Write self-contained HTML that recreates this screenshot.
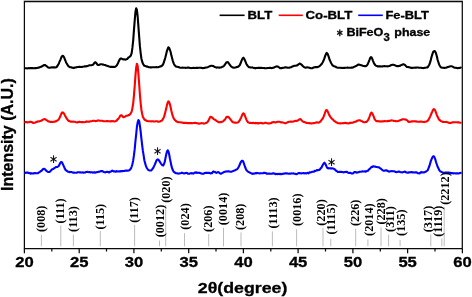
<!DOCTYPE html>
<html><head><meta charset="utf-8"><title>XRD</title>
<style>
html,body{margin:0;padding:0;background:#fff;}
svg{display:block;}
.ax{font-family:"Liberation Sans",sans-serif;font-weight:bold;fill:#000;stroke:#000;stroke-width:0.3px;}
.hk{font-family:"Liberation Serif",serif;font-weight:bold;font-size:12.2px;fill:#000;}
</style></head><body>
<svg width="472" height="297" viewBox="0 0 472 297">
<rect width="472" height="297" fill="#fff"/>
<line x1="41.4" y1="235.0" x2="41.4" y2="246.3" stroke="#b4b4b4" stroke-width="0.9"/>
<line x1="60.8" y1="225.3" x2="60.8" y2="246.3" stroke="#b4b4b4" stroke-width="0.9"/>
<line x1="73.4" y1="234.6" x2="73.4" y2="246.3" stroke="#b4b4b4" stroke-width="0.9"/>
<line x1="100.3" y1="231.0" x2="100.3" y2="246.3" stroke="#b4b4b4" stroke-width="0.9"/>
<line x1="134.6" y1="224.8" x2="134.6" y2="246.3" stroke="#b4b4b4" stroke-width="0.9"/>
<line x1="159.5" y1="240.5" x2="159.5" y2="246.3" stroke="#b4b4b4" stroke-width="0.9"/>
<line x1="165.7" y1="205.0" x2="165.7" y2="246.3" stroke="#b4b4b4" stroke-width="0.9"/>
<line x1="184.5" y1="233.2" x2="184.5" y2="246.3" stroke="#b4b4b4" stroke-width="0.9"/>
<line x1="208.7" y1="234.0" x2="208.7" y2="246.3" stroke="#b4b4b4" stroke-width="0.9"/>
<line x1="223.5" y1="227.8" x2="223.5" y2="246.3" stroke="#b4b4b4" stroke-width="0.9"/>
<line x1="241.0" y1="232.4" x2="241.0" y2="246.3" stroke="#b4b4b4" stroke-width="0.9"/>
<line x1="272.4" y1="231.3" x2="272.4" y2="246.3" stroke="#b4b4b4" stroke-width="0.9"/>
<line x1="296.6" y1="229.2" x2="296.6" y2="246.3" stroke="#b4b4b4" stroke-width="0.9"/>
<line x1="323.0" y1="227.8" x2="323.0" y2="246.3" stroke="#b4b4b4" stroke-width="0.9"/>
<line x1="330.8" y1="238.6" x2="330.8" y2="246.3" stroke="#b4b4b4" stroke-width="0.9"/>
<line x1="355.7" y1="228.6" x2="355.7" y2="246.3" stroke="#b4b4b4" stroke-width="0.9"/>
<line x1="367.9" y1="239.4" x2="367.9" y2="246.3" stroke="#b4b4b4" stroke-width="0.9"/>
<line x1="381.0" y1="227.3" x2="381.0" y2="246.3" stroke="#b4b4b4" stroke-width="0.9"/>
<line x1="388.6" y1="234.6" x2="388.6" y2="246.3" stroke="#b4b4b4" stroke-width="0.9"/>
<line x1="400.1" y1="240.0" x2="400.1" y2="246.3" stroke="#b4b4b4" stroke-width="0.9"/>
<line x1="430.8" y1="234.3" x2="430.8" y2="246.3" stroke="#b4b4b4" stroke-width="0.9"/>
<line x1="441.8" y1="238.5" x2="441.8" y2="246.3" stroke="#b4b4b4" stroke-width="0.9"/>
<line x1="444.2" y1="207.0" x2="444.2" y2="246.3" stroke="#b4b4b4" stroke-width="0.9"/>
<rect x="23.7" y="0" width="439.2" height="1.1" fill="#b4b4b4"/>
<path d="M24.40,1.50 H462.30 V248.50 H24.40 Z" fill="none" stroke="#0a0a0a" stroke-width="1.25"/>
<line x1="24.4" y1="248.5" x2="24.4" y2="253.3" stroke="#0a0a0a" stroke-width="1.25"/>
<line x1="51.8" y1="248.5" x2="51.8" y2="251.5" stroke="#0a0a0a" stroke-width="1.25"/>
<line x1="79.2" y1="248.5" x2="79.2" y2="253.3" stroke="#0a0a0a" stroke-width="1.25"/>
<line x1="106.5" y1="248.5" x2="106.5" y2="251.5" stroke="#0a0a0a" stroke-width="1.25"/>
<line x1="133.9" y1="248.5" x2="133.9" y2="253.3" stroke="#0a0a0a" stroke-width="1.25"/>
<line x1="161.3" y1="248.5" x2="161.3" y2="251.5" stroke="#0a0a0a" stroke-width="1.25"/>
<line x1="188.7" y1="248.5" x2="188.7" y2="253.3" stroke="#0a0a0a" stroke-width="1.25"/>
<line x1="216.0" y1="248.5" x2="216.0" y2="251.5" stroke="#0a0a0a" stroke-width="1.25"/>
<line x1="243.4" y1="248.5" x2="243.4" y2="253.3" stroke="#0a0a0a" stroke-width="1.25"/>
<line x1="270.8" y1="248.5" x2="270.8" y2="251.5" stroke="#0a0a0a" stroke-width="1.25"/>
<line x1="298.1" y1="248.5" x2="298.1" y2="253.3" stroke="#0a0a0a" stroke-width="1.25"/>
<line x1="325.5" y1="248.5" x2="325.5" y2="251.5" stroke="#0a0a0a" stroke-width="1.25"/>
<line x1="352.9" y1="248.5" x2="352.9" y2="253.3" stroke="#0a0a0a" stroke-width="1.25"/>
<line x1="380.3" y1="248.5" x2="380.3" y2="251.5" stroke="#0a0a0a" stroke-width="1.25"/>
<line x1="407.6" y1="248.5" x2="407.6" y2="253.3" stroke="#0a0a0a" stroke-width="1.25"/>
<line x1="435.0" y1="248.5" x2="435.0" y2="251.5" stroke="#0a0a0a" stroke-width="1.25"/>
<line x1="462.4" y1="248.5" x2="462.4" y2="253.3" stroke="#0a0a0a" stroke-width="1.25"/>
<text class="ax" transform="translate(24.4,267.4) scale(1.17,1)" font-size="14.2" text-anchor="middle">20</text>
<text class="ax" transform="translate(79.2,267.4) scale(1.17,1)" font-size="14.2" text-anchor="middle">25</text>
<text class="ax" transform="translate(133.9,267.4) scale(1.17,1)" font-size="14.2" text-anchor="middle">30</text>
<text class="ax" transform="translate(188.7,267.4) scale(1.17,1)" font-size="14.2" text-anchor="middle">35</text>
<text class="ax" transform="translate(243.4,267.4) scale(1.17,1)" font-size="14.2" text-anchor="middle">40</text>
<text class="ax" transform="translate(298.1,267.4) scale(1.17,1)" font-size="14.2" text-anchor="middle">45</text>
<text class="ax" transform="translate(352.9,267.4) scale(1.17,1)" font-size="14.2" text-anchor="middle">50</text>
<text class="ax" transform="translate(407.6,267.4) scale(1.17,1)" font-size="14.2" text-anchor="middle">55</text>
<text class="ax" transform="translate(462.4,267.4) scale(1.17,1)" font-size="14.2" text-anchor="middle">60</text>
<polyline fill="none" stroke="#000" stroke-width="2.1" stroke-linejoin="round" points="24.4,67.9 25.1,68.2 25.9,68.2 26.6,68.2 27.4,68.4 28.1,68.2 28.9,68.1 29.6,68.2 30.4,68.0 31.1,68.1 31.9,68.1 32.6,68.1 33.4,68.2 34.1,68.2 34.9,68.1 35.6,68.1 36.4,68.1 37.1,67.9 37.9,67.8 38.6,67.8 39.4,67.2 40.1,67.1 40.9,66.9 41.6,66.4 42.4,66.3 43.1,65.6 43.9,65.1 44.6,65.1 45.4,65.1 46.1,65.9 46.9,66.4 47.6,67.0 48.4,67.6 49.1,67.8 49.9,67.8 50.6,67.5 51.4,67.5 52.1,67.2 52.9,67.4 53.6,67.4 54.4,67.4 55.1,67.5 55.9,67.4 56.6,67.0 57.4,66.0 58.1,64.8 58.9,63.4 59.6,61.5 60.4,59.9 61.1,58.0 61.9,56.3 62.6,55.8 63.4,56.2 64.2,57.6 64.9,59.4 65.7,61.4 66.4,63.0 67.2,64.3 67.9,65.6 68.7,66.4 69.4,66.8 70.2,67.2 70.9,67.2 71.7,67.5 72.4,67.8 73.2,67.9 73.9,67.9 74.7,67.6 75.4,67.5 76.2,67.4 76.9,67.1 77.7,67.0 78.4,67.0 79.2,66.9 79.9,66.9 80.7,67.0 81.4,67.0 82.2,66.9 82.9,66.8 83.7,66.6 84.4,66.4 85.2,66.3 85.9,66.4 86.7,66.3 87.4,66.0 88.2,65.7 88.9,65.4 89.7,65.2 90.4,65.2 91.2,65.2 91.9,65.1 92.7,64.9 93.4,64.4 94.2,63.2 94.9,62.3 95.7,62.4 96.4,63.2 97.2,64.4 97.9,65.0 98.7,65.0 99.4,64.8 100.2,64.3 100.9,64.2 101.7,64.3 102.4,64.5 103.2,64.6 103.9,64.8 104.7,65.0 105.4,65.1 106.2,65.5 106.9,65.7 107.7,66.1 108.4,66.3 109.2,66.6 109.9,66.8 110.7,66.9 111.4,66.8 112.2,66.9 112.9,67.0 113.7,66.8 114.4,67.0 115.2,66.8 115.9,66.2 116.7,65.5 117.4,64.3 118.2,62.7 118.9,61.0 119.7,59.5 120.4,58.6 121.2,58.5 121.9,58.8 122.7,59.1 123.4,59.5 124.2,59.4 124.9,59.5 125.7,59.6 126.4,59.3 127.2,59.1 127.9,58.2 128.7,57.3 129.4,56.9 130.2,56.4 130.9,55.4 131.7,52.9 132.4,47.9 133.2,40.4 133.9,30.9 134.7,20.7 135.4,12.3 136.2,8.2 136.9,9.8 137.7,16.8 138.4,26.4 139.2,37.0 139.9,46.2 140.7,53.3 141.4,58.5 142.2,61.7 142.9,63.7 143.7,64.8 144.4,65.8 145.2,66.0 145.9,66.2 146.7,66.7 147.4,66.6 148.2,66.9 148.9,67.2 149.7,67.3 150.4,67.4 151.2,67.4 151.9,67.2 152.7,67.3 153.4,67.3 154.2,67.2 154.9,67.2 155.7,67.3 156.4,67.1 157.2,67.2 157.9,67.2 158.7,66.9 159.4,66.7 160.2,66.4 160.9,66.4 161.7,66.0 162.4,65.3 163.2,64.1 163.9,62.1 164.7,59.7 165.4,57.2 166.2,53.9 166.9,51.1 167.7,48.8 168.4,47.3 169.2,48.0 169.9,49.8 170.7,52.3 171.4,55.6 172.2,58.6 172.9,61.1 173.7,63.3 174.4,64.9 175.2,65.8 175.9,66.5 176.7,66.7 177.4,66.8 178.2,67.0 178.9,67.2 179.7,67.5 180.4,67.7 181.2,67.7 181.9,67.7 182.7,67.6 183.4,67.7 184.2,67.8 184.9,67.8 185.7,67.9 186.4,67.8 187.2,67.8 187.9,67.6 188.7,67.6 189.4,67.7 190.2,67.9 190.9,68.1 191.7,68.0 192.4,68.0 193.2,67.9 193.9,67.9 194.7,68.0 195.4,68.0 196.2,67.8 196.9,67.9 197.7,67.9 198.4,67.7 199.2,67.7 199.9,67.7 200.7,67.8 201.4,67.9 202.2,68.0 202.9,68.2 203.7,68.0 204.4,67.9 205.2,67.8 205.9,67.6 206.7,67.4 207.4,67.2 208.2,66.9 208.9,66.6 209.7,66.3 210.4,66.0 211.2,65.8 211.9,65.7 212.7,65.9 213.4,66.1 214.2,66.6 214.9,67.1 215.7,67.3 216.4,67.6 217.2,67.5 217.9,67.4 218.7,67.6 219.4,67.6 220.2,67.5 220.9,67.5 221.7,67.1 222.4,66.8 223.2,66.6 223.9,65.9 224.7,65.0 225.4,63.8 226.2,62.7 226.9,62.2 227.7,62.1 228.4,62.8 229.2,63.9 229.9,64.8 230.7,66.0 231.4,66.6 232.2,67.1 232.9,67.5 233.7,67.6 234.4,67.8 235.2,67.6 235.9,67.4 236.7,67.0 237.4,66.9 238.2,66.8 238.9,66.1 239.7,65.2 240.4,63.8 241.2,61.7 241.9,59.9 242.7,58.3 243.4,57.7 244.2,58.6 244.9,60.3 245.7,62.1 246.4,63.9 247.2,65.3 247.9,66.1 248.7,67.0 249.4,67.3 250.2,67.4 250.9,67.5 251.7,67.5 252.4,67.4 253.2,67.7 253.9,67.9 254.7,68.0 255.4,68.4 256.1,68.1 256.9,67.9 257.6,68.0 258.4,67.9 259.1,67.8 259.9,67.9 260.6,67.9 261.4,67.8 262.1,68.0 262.9,68.0 263.6,68.0 264.4,68.1 265.1,68.2 265.9,68.2 266.6,68.3 267.4,68.0 268.1,68.0 268.9,68.0 269.6,67.8 270.4,67.9 271.1,68.0 271.9,68.1 272.6,67.9 273.4,67.8 274.1,67.4 274.9,67.1 275.6,66.8 276.4,66.5 277.1,66.4 277.9,66.6 278.6,67.1 279.4,67.5 280.1,68.1 280.9,68.2 281.6,68.1 282.4,68.0 283.1,67.7 283.9,67.7 284.6,67.4 285.4,67.2 286.1,67.4 286.9,67.5 287.6,67.7 288.4,67.7 289.1,67.8 289.9,67.4 290.6,67.2 291.4,67.1 292.1,66.6 292.9,66.2 293.6,66.1 294.4,65.8 295.1,65.8 295.9,65.8 296.6,65.6 297.4,65.2 298.1,64.6 298.9,64.1 299.6,63.5 300.4,63.7 301.1,64.4 301.9,64.9 302.6,65.9 303.4,66.5 304.1,67.1 304.9,67.5 305.6,67.6 306.4,67.5 307.1,67.3 307.9,67.5 308.6,67.5 309.4,67.7 310.1,68.1 310.9,68.3 311.6,68.2 312.4,68.1 313.1,67.7 313.9,67.4 314.6,67.3 315.4,67.1 316.1,67.2 316.9,67.0 317.6,67.1 318.4,66.8 319.1,66.4 319.9,65.9 320.6,65.1 321.4,64.3 322.1,63.3 322.9,61.9 323.6,60.5 324.4,58.4 325.1,56.1 325.9,54.3 326.6,52.9 327.4,53.5 328.1,55.2 328.9,57.4 329.6,59.7 330.4,61.4 331.1,63.0 331.9,64.3 332.6,65.3 333.4,65.9 334.1,66.3 334.9,66.5 335.6,66.7 336.4,67.3 337.1,67.5 337.9,67.7 338.6,67.8 339.4,67.7 340.1,67.8 340.9,67.7 341.6,68.0 342.4,68.0 343.1,67.9 343.9,68.0 344.6,67.9 345.4,67.8 346.1,67.8 346.9,67.7 347.6,67.6 348.4,67.8 349.1,67.7 349.9,67.7 350.6,67.7 351.4,67.6 352.1,67.6 352.9,67.5 353.6,67.1 354.4,66.8 355.1,66.4 355.9,66.1 356.6,65.8 357.4,65.1 358.1,64.6 358.9,64.6 359.6,64.7 360.4,64.9 361.1,65.3 361.9,65.4 362.6,65.8 363.4,66.0 364.1,66.0 364.9,66.3 365.6,66.2 366.4,65.8 367.1,65.2 367.9,63.7 368.6,62.1 369.4,60.2 370.1,58.2 370.9,57.1 371.6,57.5 372.4,59.1 373.1,61.1 373.9,63.0 374.6,64.3 375.4,65.2 376.1,65.8 376.9,66.0 377.6,66.4 378.4,66.4 379.1,66.3 379.9,66.4 380.6,66.3 381.4,66.5 382.1,66.5 382.9,66.2 383.6,66.3 384.4,66.0 385.1,66.2 385.9,66.3 386.6,66.3 387.4,66.4 388.1,66.3 388.9,66.1 389.6,65.9 390.4,65.6 391.1,65.1 391.9,64.9 392.6,64.8 393.4,64.8 394.1,65.0 394.9,65.3 395.6,65.6 396.4,66.0 397.1,66.1 397.9,66.3 398.6,66.0 399.4,65.9 400.1,65.8 400.9,65.2 401.6,65.0 402.4,64.6 403.1,64.3 403.9,64.4 404.6,64.7 405.4,65.4 406.1,66.2 406.9,66.9 407.6,67.0 408.4,67.1 409.1,67.3 409.9,67.4 410.6,67.8 411.4,67.9 412.1,67.9 412.9,67.7 413.6,67.7 414.4,67.8 415.1,67.6 415.9,67.7 416.6,67.5 417.4,67.5 418.1,67.5 418.9,67.7 419.6,67.8 420.4,67.7 421.1,67.8 421.9,68.0 422.6,68.0 423.4,68.1 424.1,67.9 424.9,67.7 425.6,67.7 426.4,67.5 427.1,67.5 427.9,67.0 428.6,65.8 429.4,64.4 430.1,62.4 430.9,59.6 431.6,56.8 432.4,54.1 433.1,52.0 433.9,51.2 434.6,51.0 435.4,51.9 436.1,53.7 436.9,56.5 437.6,59.7 438.4,62.2 439.1,64.4 439.9,66.0 440.6,67.0 441.4,67.6 442.1,67.8 442.9,67.8 443.6,67.7 444.4,68.0 445.1,67.8 445.9,67.7 446.6,67.5 447.4,67.1 448.1,67.0 448.9,66.7 449.6,66.5 450.4,66.2 451.1,66.3 451.9,66.3 452.6,66.7 453.4,67.2 454.1,67.4 454.9,67.7 455.6,67.7 456.4,67.9 457.1,68.0 457.9,68.2 458.6,68.0 459.4,67.9 460.1,67.7 460.9,67.6 461.6,67.9"/>
<polyline fill="none" stroke="#ff0000" stroke-width="2.1" stroke-linejoin="round" points="24.4,121.8 25.1,122.1 25.9,122.0 26.6,122.1 27.4,122.4 28.1,122.3 28.9,122.3 29.6,121.9 30.4,121.8 31.1,121.9 31.9,122.1 32.6,122.7 33.4,122.9 34.1,122.8 34.9,122.8 35.6,122.4 36.4,121.9 37.1,121.9 37.9,121.4 38.6,121.5 39.4,121.4 40.1,121.1 40.9,120.8 41.6,120.5 42.4,120.0 43.1,119.5 43.9,119.3 44.6,119.0 45.4,119.4 46.1,119.9 46.9,120.3 47.6,120.8 48.4,121.4 49.1,121.5 49.9,121.7 50.6,122.0 51.4,121.8 52.1,122.1 52.9,121.9 53.6,121.8 54.4,121.8 55.1,121.3 55.9,121.4 56.6,120.9 57.4,120.5 58.1,120.0 58.9,119.1 59.6,117.8 60.4,116.0 61.1,114.3 61.9,112.7 62.6,112.3 63.4,112.8 64.2,113.9 64.9,115.4 65.7,116.8 66.4,118.1 67.2,119.2 67.9,120.2 68.7,120.9 69.4,121.1 70.2,121.5 70.9,121.6 71.7,121.5 72.4,121.7 73.2,121.6 73.9,121.7 74.7,121.7 75.4,122.0 76.2,122.3 76.9,122.4 77.7,122.4 78.4,122.0 79.2,121.9 79.9,121.9 80.7,122.1 81.4,122.1 82.2,122.1 82.9,122.1 83.7,122.3 84.4,122.2 85.2,122.0 85.9,121.7 86.7,121.4 87.4,121.7 88.2,121.6 88.9,121.7 89.7,121.6 90.4,121.2 91.2,121.2 91.9,121.1 92.7,120.9 93.4,120.8 94.2,120.8 94.9,121.0 95.7,121.1 96.4,121.0 97.2,120.8 97.9,120.4 98.7,120.5 99.4,120.7 100.2,120.7 100.9,120.8 101.7,120.8 102.4,120.9 103.2,121.1 103.9,121.2 104.7,121.2 105.4,121.2 106.2,121.3 106.9,121.1 107.7,121.1 108.4,121.3 109.2,121.2 109.9,121.2 110.7,121.5 111.4,121.1 112.2,121.2 112.9,121.1 113.7,121.2 114.4,121.5 115.2,121.3 115.9,121.0 116.7,120.5 117.4,119.6 118.2,118.9 118.9,118.1 119.7,116.7 120.4,115.4 121.2,115.2 121.9,115.5 122.7,116.5 123.4,117.2 124.2,116.9 124.9,116.7 125.7,116.2 126.4,115.7 127.2,115.7 127.9,115.4 128.7,115.1 129.4,114.9 130.2,114.1 130.9,113.2 131.7,111.4 132.4,108.1 133.2,103.3 133.9,95.8 134.7,86.2 135.4,76.1 136.2,67.4 136.9,63.7 137.7,66.0 138.4,73.8 139.2,84.4 139.9,94.6 140.7,103.5 141.4,109.7 142.2,114.0 142.9,116.9 143.7,118.3 144.4,119.5 145.2,120.0 145.9,120.3 146.7,121.0 147.4,121.0 148.2,121.2 148.9,121.2 149.7,121.2 150.4,121.3 151.2,121.4 151.9,121.3 152.7,121.2 153.4,121.4 154.2,121.5 154.9,121.5 155.7,121.3 156.4,121.3 157.2,121.3 157.9,121.6 158.7,121.7 159.4,121.6 160.2,121.4 160.9,120.9 161.7,120.7 162.4,119.9 163.2,118.7 163.9,117.1 164.7,114.7 165.4,111.8 166.2,108.6 166.9,105.4 167.7,102.6 168.4,101.4 169.2,102.0 169.9,104.2 170.7,107.5 171.4,111.0 172.2,114.1 172.9,116.4 173.7,118.4 174.4,119.5 175.2,120.3 175.9,121.0 176.7,121.5 177.4,122.0 178.2,122.1 178.9,122.2 179.7,122.3 180.4,122.2 181.2,122.4 181.9,122.5 182.7,122.7 183.4,122.9 184.2,122.9 184.9,122.9 185.7,122.7 186.4,123.0 187.2,123.1 187.9,123.1 188.7,123.1 189.4,123.0 190.2,123.1 190.9,123.1 191.7,123.1 192.4,123.2 193.2,123.0 193.9,123.0 194.7,122.9 195.4,122.8 196.2,123.0 196.9,123.3 197.7,123.3 198.4,123.6 199.2,123.6 199.9,123.5 200.7,123.4 201.4,123.1 202.2,123.2 202.9,123.3 203.7,123.6 204.4,123.5 205.2,123.3 205.9,123.0 206.7,122.7 207.4,122.2 208.2,121.1 208.9,119.7 209.7,117.9 210.4,116.7 211.2,116.9 211.9,117.5 212.7,118.0 213.4,118.9 214.2,119.4 214.9,119.7 215.7,120.1 216.4,120.9 217.2,121.3 217.9,121.7 218.7,122.3 219.4,122.2 220.2,122.0 220.9,122.3 221.7,121.9 222.4,121.5 223.2,121.4 223.9,120.6 224.7,119.8 225.4,118.8 226.2,117.4 226.9,116.8 227.7,116.7 228.4,117.0 229.2,117.8 229.9,118.6 230.7,119.6 231.4,120.6 232.2,121.7 232.9,122.3 233.7,122.4 234.4,122.6 235.2,122.5 235.9,122.8 236.7,122.8 237.4,122.6 238.2,122.3 238.9,121.5 239.7,120.4 240.4,119.1 241.2,117.4 241.9,115.6 242.7,113.9 243.4,113.3 244.2,114.0 244.9,115.7 245.7,117.8 246.4,119.6 247.2,121.2 247.9,122.2 248.7,122.6 249.4,122.9 250.2,122.9 250.9,123.0 251.7,123.0 252.4,123.1 253.2,122.8 253.9,123.1 254.7,123.3 255.4,122.9 256.1,123.2 256.9,123.1 257.6,123.0 258.4,123.5 259.1,123.3 259.9,123.1 260.6,122.9 261.4,123.0 262.1,123.3 262.9,123.4 263.6,123.2 264.4,123.0 265.1,122.8 265.9,122.8 266.6,123.0 267.4,123.2 268.1,123.4 268.9,123.5 269.6,123.4 270.4,123.3 271.1,123.0 271.9,122.5 272.6,122.2 273.4,122.0 274.1,122.1 274.9,122.2 275.6,122.4 276.4,122.2 277.1,121.9 277.9,121.8 278.6,121.7 279.4,121.8 280.1,122.0 280.9,122.4 281.6,122.3 282.4,122.4 283.1,122.6 283.9,122.8 284.6,123.2 285.4,123.3 286.1,123.0 286.9,122.6 287.6,122.3 288.4,122.0 289.1,121.8 289.9,121.7 290.6,121.6 291.4,121.5 292.1,121.7 292.9,121.7 293.6,121.3 294.4,121.2 295.1,120.9 295.9,120.7 296.6,120.9 297.4,120.8 298.1,120.2 298.9,119.8 299.6,119.2 300.4,119.1 301.1,119.7 301.9,120.6 302.6,121.4 303.4,121.8 304.1,122.1 304.9,122.3 305.6,122.5 306.4,122.9 307.1,123.0 307.9,123.0 308.6,123.2 309.4,123.1 310.1,123.2 310.9,123.5 311.6,123.4 312.4,123.2 313.1,123.3 313.9,123.1 314.6,123.0 315.4,122.8 316.1,122.5 316.9,122.4 317.6,122.5 318.4,122.6 319.1,122.5 319.9,121.9 320.6,121.2 321.4,120.3 322.1,119.2 322.9,118.3 323.6,116.7 324.4,114.7 325.1,112.5 325.9,110.4 326.6,110.0 327.4,110.8 328.1,112.4 328.9,114.3 329.6,115.7 330.4,116.9 331.1,117.8 331.9,118.7 332.6,119.3 333.4,120.1 334.1,120.9 334.9,121.2 335.6,121.9 336.4,122.4 337.1,122.7 337.9,123.2 338.6,123.3 339.4,123.3 340.1,123.4 340.9,123.4 341.6,123.3 342.4,123.2 343.1,123.1 343.9,123.2 344.6,122.9 345.4,122.8 346.1,123.2 346.9,123.1 347.6,123.2 348.4,123.4 349.1,123.2 349.9,122.8 350.6,122.9 351.4,122.8 352.1,122.7 352.9,122.7 353.6,122.2 354.4,121.9 355.1,121.7 355.9,121.6 356.6,121.1 357.4,120.8 358.1,120.4 358.9,120.2 359.6,120.3 360.4,120.5 361.1,120.9 361.9,121.2 362.6,121.7 363.4,121.9 364.1,122.2 364.9,122.2 365.6,122.0 366.4,121.9 367.1,121.3 367.9,120.3 368.6,119.1 369.4,117.0 370.1,115.0 370.9,113.3 371.6,112.5 372.4,113.6 373.1,115.2 373.9,117.2 374.6,119.1 375.4,120.1 376.1,120.9 376.9,121.2 377.6,121.1 378.4,121.3 379.1,121.4 379.9,121.4 380.6,121.4 381.4,121.6 382.1,121.3 382.9,121.4 383.6,121.3 384.4,121.0 385.1,121.3 385.9,121.2 386.6,121.2 387.4,121.0 388.1,121.1 388.9,120.8 389.6,120.9 390.4,120.7 391.1,120.3 391.9,120.5 392.6,120.5 393.4,120.7 394.1,121.0 394.9,121.0 395.6,121.1 396.4,121.3 397.1,121.3 397.9,121.1 398.6,120.9 399.4,120.5 400.1,120.3 400.9,120.1 401.6,119.7 402.4,119.3 403.1,119.2 403.9,119.3 404.6,119.4 405.4,119.6 406.1,119.6 406.9,120.2 407.6,120.8 408.4,121.7 409.1,122.0 409.9,121.8 410.6,121.8 411.4,121.4 412.1,121.4 412.9,121.4 413.6,121.3 414.4,121.3 415.1,121.4 415.9,121.3 416.6,121.5 417.4,121.8 418.1,121.7 418.9,121.7 419.6,121.8 420.4,121.5 421.1,121.5 421.9,121.8 422.6,121.7 423.4,121.9 424.1,122.1 424.9,121.8 425.6,121.8 426.4,121.6 427.1,121.1 427.9,120.6 428.6,119.6 429.4,118.0 430.1,116.6 430.9,114.8 431.6,113.0 432.4,111.4 433.1,109.7 433.9,109.0 434.6,109.5 435.4,111.0 436.1,112.9 436.9,115.1 437.6,116.8 438.4,118.4 439.1,119.6 439.9,120.2 440.6,120.9 441.4,121.2 442.1,121.6 442.9,121.9 443.6,122.0 444.4,122.0 445.1,122.0 445.9,122.0 446.6,121.9 447.4,122.2 448.1,122.4 448.9,122.7 449.6,123.0 450.4,123.0 451.1,122.7 451.9,122.5 452.6,122.4 453.4,122.3 454.1,122.3 454.9,122.3 455.6,122.2 456.4,122.2 457.1,122.2 457.9,122.4 458.6,122.3 459.4,122.6 460.1,122.8 460.9,122.8 461.6,122.8"/>
<polyline fill="none" stroke="#0000ff" stroke-width="2.1" stroke-linejoin="round" points="24.4,172.7 25.1,173.0 25.9,172.6 26.6,172.6 27.4,172.5 28.1,172.9 28.9,172.8 29.6,173.2 30.4,173.7 31.1,173.1 31.9,173.5 32.6,173.5 33.4,173.2 34.1,173.4 34.9,173.0 35.6,173.3 36.4,173.2 37.1,173.2 37.9,173.2 38.6,172.5 39.4,172.2 40.1,171.8 40.9,171.0 41.6,170.7 42.4,169.8 43.1,168.9 43.9,168.7 44.6,168.9 45.4,169.8 46.1,170.6 46.9,171.2 47.6,171.8 48.4,172.0 49.1,172.0 49.9,171.7 50.6,170.8 51.4,170.2 52.1,169.3 52.9,169.0 53.6,168.7 54.4,168.0 55.1,167.6 55.9,167.1 56.6,167.0 57.4,167.0 58.1,166.5 58.9,165.7 59.6,164.2 60.4,162.7 61.1,162.0 61.9,162.3 62.6,163.6 63.4,165.4 64.2,167.1 64.9,168.8 65.7,170.1 66.4,170.5 67.2,171.2 67.9,171.7 68.7,171.7 69.4,172.1 70.2,172.1 70.9,171.9 71.7,172.1 72.4,172.4 73.2,172.8 73.9,172.5 74.7,172.7 75.4,172.7 76.2,172.7 76.9,172.6 77.7,172.3 78.4,172.3 79.2,172.2 79.9,172.4 80.7,172.4 81.4,172.6 82.2,172.4 82.9,172.5 83.7,172.8 84.4,172.5 85.2,172.5 85.9,172.1 86.7,171.9 87.4,171.7 88.2,172.0 88.9,172.2 89.7,172.0 90.4,172.4 91.2,172.3 91.9,172.2 92.7,172.7 93.4,172.5 94.2,172.2 94.9,172.7 95.7,172.4 96.4,172.2 97.2,172.1 97.9,172.0 98.7,171.7 99.4,171.6 100.2,171.5 100.9,171.0 101.7,171.1 102.4,171.0 103.2,171.6 103.9,172.0 104.7,172.3 105.4,172.4 106.2,171.9 106.9,172.0 107.7,171.8 108.4,172.0 109.2,172.5 109.9,171.8 110.7,171.7 111.4,171.1 112.2,170.6 112.9,171.1 113.7,171.4 114.4,171.3 115.2,171.6 115.9,171.7 116.7,171.1 117.4,171.5 118.2,171.5 118.9,171.4 119.7,171.4 120.4,171.4 121.2,171.1 121.9,171.1 122.7,171.1 123.4,171.0 124.2,171.0 124.9,170.7 125.7,170.6 126.4,170.6 127.2,170.8 127.9,170.6 128.7,170.5 129.4,170.1 130.2,169.4 130.9,168.6 131.7,166.5 132.4,164.3 133.2,160.4 133.9,155.7 134.7,149.2 135.4,141.5 136.2,134.1 136.9,127.0 137.7,122.2 138.4,120.1 139.2,121.2 139.9,125.6 140.7,132.0 141.4,138.6 142.2,145.4 142.9,150.9 143.7,155.9 144.4,160.5 145.2,163.4 145.9,165.9 146.7,167.7 147.4,168.8 148.2,169.8 148.9,170.2 149.7,170.5 150.4,170.5 151.2,170.4 151.9,169.7 152.7,168.7 153.4,167.6 154.2,165.9 154.9,164.4 155.7,162.5 156.4,160.5 157.2,159.6 157.9,159.4 158.7,159.9 159.4,161.2 160.2,162.4 160.9,163.5 161.7,164.6 162.4,165.3 163.2,165.5 163.9,164.2 164.7,162.1 165.4,158.5 166.2,154.6 166.9,151.8 167.7,150.3 168.4,151.3 169.2,154.5 169.9,158.5 170.7,162.3 171.4,165.9 172.2,168.5 172.9,170.3 173.7,171.7 174.4,172.3 175.2,172.7 175.9,173.3 176.7,173.3 177.4,173.4 178.2,173.5 178.9,173.6 179.7,173.4 180.4,173.3 181.2,173.0 181.9,172.6 182.7,173.0 183.4,173.2 184.2,173.5 184.9,173.2 185.7,173.0 186.4,172.9 187.2,173.1 187.9,173.8 188.7,173.8 189.4,173.8 190.2,173.4 190.9,173.1 191.7,173.4 192.4,173.3 193.2,173.6 193.9,173.3 194.7,172.6 195.4,172.7 196.2,172.3 196.9,172.9 197.7,172.7 198.4,172.8 199.2,172.9 199.9,172.8 200.7,173.3 201.4,173.6 202.2,173.8 202.9,173.7 203.7,173.6 204.4,173.1 205.2,172.9 205.9,172.9 206.7,172.9 207.4,172.8 208.2,172.9 208.9,172.7 209.7,173.0 210.4,173.5 211.2,173.1 211.9,173.3 212.7,172.1 213.4,171.4 214.2,171.7 214.9,171.9 215.7,172.6 216.4,172.9 217.2,172.4 217.9,172.1 218.7,172.3 219.4,172.8 220.2,173.5 220.9,173.8 221.7,173.3 222.4,172.9 223.2,172.5 223.9,172.1 224.7,171.8 225.4,171.8 226.2,171.5 226.9,171.3 227.7,171.5 228.4,171.4 229.2,171.4 229.9,171.6 230.7,171.7 231.4,171.8 232.2,171.4 232.9,171.1 233.7,170.9 234.4,170.4 235.2,170.2 235.9,169.8 236.7,169.4 237.4,169.1 238.2,167.7 238.9,166.5 239.7,164.8 240.4,162.9 241.2,161.7 241.9,160.7 242.7,160.7 243.4,162.0 244.2,164.4 244.9,166.5 245.7,168.5 246.4,170.0 247.2,170.9 247.9,171.6 248.7,172.0 249.4,172.3 250.2,172.8 250.9,173.1 251.7,173.5 252.4,173.9 253.2,173.5 253.9,173.6 254.7,173.5 255.4,173.1 256.1,173.4 256.9,172.9 257.6,173.1 258.4,173.3 259.1,173.2 259.9,173.4 260.6,173.3 261.4,173.3 262.1,173.3 262.9,173.3 263.6,172.9 264.4,172.8 265.1,172.9 265.9,173.1 266.6,173.8 267.4,173.8 268.1,173.6 268.9,173.7 269.6,173.6 270.4,173.8 271.1,173.7 271.9,173.7 272.6,173.4 273.4,173.3 274.1,173.6 274.9,173.6 275.6,174.2 276.4,174.0 277.1,173.9 277.9,174.2 278.6,173.8 279.4,173.9 280.1,174.2 280.9,173.8 281.6,174.2 282.4,174.0 283.1,173.6 283.9,173.8 284.6,173.4 285.4,173.2 286.1,173.4 286.9,173.2 287.6,173.4 288.4,173.7 289.1,173.7 289.9,173.5 290.6,173.6 291.4,173.4 292.1,173.5 292.9,173.5 293.6,173.3 294.4,173.8 295.1,173.8 295.9,174.1 296.6,174.1 297.4,173.7 298.1,173.3 298.9,173.1 299.6,173.1 300.4,173.3 301.1,173.4 301.9,173.2 302.6,173.2 303.4,173.1 304.1,173.3 304.9,173.4 305.6,173.1 306.4,173.5 307.1,173.0 307.9,172.9 308.6,173.3 309.4,172.4 310.1,172.4 310.9,172.2 311.6,172.1 312.4,171.8 313.1,171.7 313.9,171.7 314.6,170.9 315.4,171.0 316.1,170.6 316.9,170.0 317.6,170.4 318.4,170.0 319.1,169.9 319.9,169.6 320.6,168.3 321.4,167.7 322.1,166.3 322.9,164.7 323.6,163.6 324.4,162.7 325.1,163.4 325.9,165.0 326.6,166.7 327.4,168.1 328.1,168.1 328.9,168.4 329.6,168.3 330.4,168.3 331.1,168.6 331.9,168.3 332.6,168.5 333.4,168.5 334.1,169.0 334.9,169.5 335.6,170.1 336.4,171.0 337.1,171.3 337.9,172.1 338.6,171.9 339.4,171.7 340.1,172.0 340.9,171.7 341.6,171.9 342.4,172.0 343.1,172.3 343.9,172.4 344.6,172.0 345.4,172.0 346.1,171.8 346.9,171.8 347.6,172.6 348.4,172.8 349.1,173.0 349.9,172.9 350.6,172.9 351.4,173.4 352.1,173.5 352.9,173.5 353.6,172.8 354.4,172.1 355.1,172.1 355.9,172.1 356.6,172.6 357.4,172.5 358.1,172.2 358.9,172.2 359.6,171.7 360.4,171.7 361.1,171.7 361.9,171.5 362.6,171.4 363.4,171.5 364.1,171.5 364.9,171.2 365.6,171.7 366.4,171.3 367.1,170.9 367.9,170.8 368.6,169.9 369.4,169.1 370.1,168.5 370.9,167.6 371.6,166.9 372.4,167.0 373.1,166.3 373.9,166.4 374.6,166.6 375.4,166.5 376.1,167.0 376.9,167.0 377.6,167.2 378.4,167.2 379.1,167.4 379.9,168.1 380.6,168.5 381.4,169.1 382.1,169.9 382.9,170.4 383.6,170.7 384.4,170.8 385.1,170.5 385.9,170.2 386.6,170.2 387.4,170.9 388.1,171.1 388.9,171.6 389.6,171.5 390.4,171.2 391.1,171.3 391.9,171.0 392.6,171.2 393.4,171.2 394.1,171.3 394.9,171.6 395.6,172.0 396.4,172.1 397.1,172.0 397.9,171.7 398.6,171.6 399.4,171.6 400.1,172.0 400.9,172.2 401.6,172.3 402.4,172.5 403.1,172.0 403.9,172.0 404.6,171.6 405.4,171.8 406.1,172.4 406.9,172.5 407.6,172.7 408.4,172.6 409.1,172.3 409.9,172.4 410.6,172.3 411.4,172.0 412.1,172.4 412.9,172.2 413.6,172.5 414.4,172.5 415.1,172.4 415.9,172.4 416.6,172.3 417.4,173.0 418.1,173.3 418.9,173.3 419.6,173.4 420.4,172.6 421.1,172.1 421.9,172.4 422.6,172.2 423.4,172.5 424.1,172.4 424.9,172.1 425.6,171.7 426.4,171.3 427.1,170.7 427.9,169.9 428.6,168.0 429.4,166.0 430.1,163.6 430.9,160.9 431.6,159.2 432.4,157.3 433.1,156.2 433.9,156.3 434.6,157.5 435.4,159.7 436.1,162.3 436.9,164.5 437.6,166.7 438.4,168.2 439.1,169.9 439.9,171.0 440.6,171.6 441.4,171.8 442.1,172.2 442.9,172.5 443.6,172.7 444.4,173.0 445.1,172.6 445.9,172.6 446.6,172.5 447.4,172.6 448.1,172.5 448.9,172.6 449.6,172.9 450.4,172.9 451.1,173.0 451.9,173.4 452.6,173.1 453.4,173.4 454.1,173.3 454.9,173.2 455.6,173.5 456.4,173.4 457.1,173.4 457.9,173.3 458.6,173.5 459.4,173.3 460.1,173.0 460.9,172.8 461.6,172.5"/>
<text class="hk" transform="translate(44.9,232.0) rotate(-90)">(008)</text>
<text class="hk" transform="translate(63.8,223.4) rotate(-90)">(111)</text>
<text class="hk" transform="translate(77.2,231.9) rotate(-90)">(113)</text>
<text class="hk" transform="translate(103.7,229.6) rotate(-90)">(115)</text>
<text class="hk" transform="translate(138.1,222.8) rotate(-90)">(117)</text>
<text class="hk" transform="translate(164.3,237.3) rotate(-90)">(0012)</text>
<text class="hk" transform="translate(170.4,202.8) rotate(-90)">(020)</text>
<text class="hk" transform="translate(188.7,229.7) rotate(-90)">(024)</text>
<text class="hk" transform="translate(212.1,231.9) rotate(-90)">(206)</text>
<text class="hk" transform="translate(226.9,225.2) rotate(-90)">(0014)</text>
<text class="hk" transform="translate(244.1,230.0) rotate(-90)">(208)</text>
<text class="hk" transform="translate(276.6,228.6) rotate(-90)">(1113)</text>
<text class="hk" transform="translate(300.6,226.0) rotate(-90)">(0016)</text>
<text class="hk" transform="translate(324.8,225.7) rotate(-90)">(220)</text>
<text class="hk" transform="translate(335.2,234.6) rotate(-90)">(1115)</text>
<text class="hk" transform="translate(359.1,226.0) rotate(-90)">(226)</text>
<text class="hk" transform="translate(372.6,235.9) rotate(-90)">(2014)</text>
<text class="hk" transform="translate(385.2,224.6) rotate(-90)">(228)</text>
<text class="hk" transform="translate(394.1,231.9) rotate(-90)">(311)</text>
<text class="hk" transform="translate(404.9,235.9) rotate(-90)">(135)</text>
<text class="hk" transform="translate(431.9,232.2) rotate(-90)">(317)</text>
<text class="hk" transform="translate(442.2,236.8) rotate(-90)">(1119)</text>
<text class="hk" transform="translate(449.4,204.8) rotate(-90)">(2212)</text>
<line x1="219.6" y1="15.3" x2="244.6" y2="15.3" stroke="#000" stroke-width="1.6"/>
<text class="ax" x="247.6" y="19.0" font-size="10.8" textLength="24.6" lengthAdjust="spacingAndGlyphs">BLT</text>
<line x1="278.7" y1="15.3" x2="302.8" y2="15.3" stroke="#ff0000" stroke-width="1.6"/>
<text class="ax" x="305.5" y="19.0" font-size="10.8" textLength="46.8" lengthAdjust="spacingAndGlyphs">Co-BLT</text>
<line x1="358.2" y1="15.3" x2="382.8" y2="15.3" stroke="#0000ff" stroke-width="1.6"/>
<text class="ax" x="385.4" y="19.0" font-size="10.8" textLength="43.4" lengthAdjust="spacingAndGlyphs">Fe-BLT</text>
<text class="ax" transform="translate(339.5,36.4) scale(0.9,1)" font-size="10.3" text-anchor="middle" style="font-weight:normal;stroke-width:0.5px">∗</text>
<text class="ax" x="346.4" y="36.1" font-size="10.4" textLength="37.0" lengthAdjust="spacingAndGlyphs">BiFeO</text>
<text class="ax" x="383.4" y="41.3" font-size="10.9" textLength="6.3" lengthAdjust="spacingAndGlyphs">3</text>
<text class="ax" x="394.3" y="36.1" font-size="10.4" textLength="35.9" lengthAdjust="spacingAndGlyphs">phase</text>
<text class="ax" transform="translate(52.8,163.0) scale(0.9,1)" font-size="11.5" text-anchor="middle" style="font-weight:normal;stroke-width:0.2px">∗</text>
<text class="ax" transform="translate(157.0,154.7) scale(0.9,1)" font-size="11.5" text-anchor="middle" style="font-weight:normal;stroke-width:0.2px">∗</text>
<text class="ax" transform="translate(331.5,166.1) scale(0.9,1)" font-size="11.5" text-anchor="middle" style="font-weight:normal;stroke-width:0.2px">∗</text>
<text class="ax" x="197.8" y="293.3" font-size="15.3" textLength="89.6" lengthAdjust="spacingAndGlyphs">2θ(degree)</text>
<text class="ax" transform="translate(13,134.6) rotate(-90)" font-size="16" text-anchor="middle">Intensity (A.U.)</text>
</svg>
</body></html>
